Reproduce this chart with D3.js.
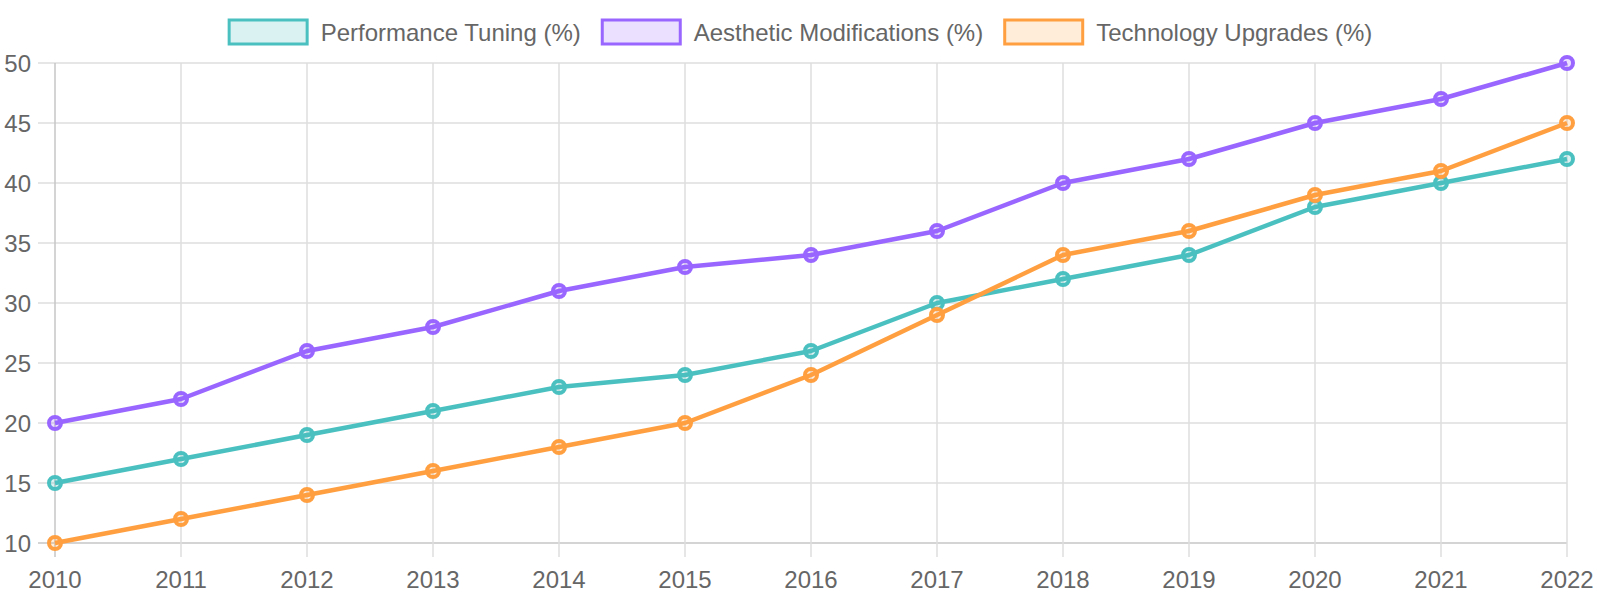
<!DOCTYPE html>
<html>
<head>
<meta charset="utf-8">
<script src="https://cdn.jsdelivr.net/npm/d3@7"></script>
<style>
  body { margin: 0; background: #fff; }
  text { font-family: "Liberation Sans", Arial, sans-serif; fill: #666; }
</style>
</head>
<body>
<script>
var years = [2010, 2011, 2012, 2013, 2014, 2015, 2016, 2017, 2018, 2019, 2020, 2021, 2022]
var performanceTuning = [15, 17, 19, 21, 23, 24, 26, 30, 32, 34, 38, 40, 42]
var aestheticMods = [20, 22, 26, 28, 31, 33, 34, 36, 40, 42, 45, 47, 50]
var techUpgrades = [10, 12, 14, 16, 18, 20, 24, 29, 34, 36, 39, 41, 45]
var yTicks = [10, 15, 20, 25, 30, 35, 40, 45, 50]

var series = [
  { name: "Performance Tuning (%)", values: performanceTuning, color: "#4bc0c0", fill: "rgba(75,192,192,0.2)" },
  { name: "Aesthetic Modifications (%)", values: aestheticMods, color: "#9966ff", fill: "rgba(153,102,255,0.2)" },
  { name: "Technology Upgrades (%)", values: techUpgrades, color: "#ff9f40", fill: "rgba(255,159,64,0.2)" }
]

var width = 1600, height = 600
var margin = { top: 63, right: 33, bottom: 57, left: 55 }

var svg = d3.select("body").append("svg")
    .attr("width", width)
    .attr("height", height)

var x = d3.scalePoint()
    .domain(years)
    .range([margin.left, width - margin.right])

var y = d3.scaleLinear()
    .domain([10, 50])
    .range([height - margin.bottom, margin.top])

// grid
svg.append("g")
  .selectAll("line")
  .data(yTicks)
  .enter()
  .append("line")
    .attr("x1", margin.left - 17)
    .attr("x2", width - margin.right)
    .attr("y1", function (d) { return y(d) })
    .attr("y2", function (d) { return y(d) })
    .attr("stroke", function (d) { return d === 10 ? "#c6c6c6" : "#dedede" })
    .attr("stroke-width", 1.5)

svg.append("g")
  .selectAll("line")
  .data(years)
  .enter()
  .append("line")
    .attr("x1", function (d) { return x(d) })
    .attr("x2", function (d) { return x(d) })
    .attr("y1", margin.top)
    .attr("y2", height - margin.bottom + 14)
    .attr("stroke", function (d, i) { return i === 0 ? "#c6c6c6" : "#dedede" })
    .attr("stroke-width", 1.5)

// tick labels
svg.append("g")
  .selectAll("text")
  .data(yTicks)
  .enter()
  .append("text")
    .attr("x", 31)
    .attr("y", function (d) { return y(d) })
    .attr("dy", "0.36em")
    .attr("text-anchor", "end")
    .style("font-size", "24px")
    .text(function (d) { return d })

svg.append("g")
  .selectAll("text")
  .data(years)
  .enter()
  .append("text")
    .attr("x", function (d) { return x(d) })
    .attr("y", 579)
    .attr("dy", "0.36em")
    .attr("text-anchor", "middle")
    .style("font-size", "24px")
    .text(function (d) { return d })

// lines
var line = d3.line()
    .x(function (d, i) { return x(years[i]) })
    .y(function (d) { return y(d) })

series.forEach(function (s) {
  svg.append("path")
    .datum(s.values)
    .attr("d", line)
    .attr("fill", "none")
    .attr("stroke", s.color)
    .attr("stroke-width", 4.5)
    .attr("stroke-linejoin", "round")
})

series.forEach(function (s) {
  svg.append("g")
    .selectAll("circle")
    .data(s.values)
    .enter()
    .append("circle")
      .attr("cx", function (d, i) { return x(years[i]) })
      .attr("cy", function (d) { return y(d) })
      .attr("r", 6)
      .attr("fill", s.fill)
      .attr("stroke", s.color)
      .attr("stroke-width", 4)
})

// legend
var legend = svg.append("g")
var items = legend.selectAll("g")
    .data(series)
    .enter()
  .append("g")

items.append("rect")
    .attr("x", 1.5)
    .attr("y", 20)
    .attr("width", 78)
    .attr("height", 24)
    .attr("fill", function (d) { return d.fill })
    .attr("stroke", function (d) { return d.color })
    .attr("stroke-width", 3)

items.append("text")
    .attr("x", 93)
    .attr("y", 32)
    .attr("dy", "0.36em")
    .style("font-size", "24px")
    .text(function (d) { return d.name })

var offsets = [], total = 0
items.each(function (d, i) {
  var w = 93 + d3.select(this).select("text").node().getComputedTextLength()
  offsets.push(total)
  total += w + (i < series.length - 1 ? 20 : 0)
})
var start = width / 2 - total / 2
items.attr("transform", function (d, i) { return "translate(" + (start + offsets[i]) + ",0)" })
</script>
</body>
</html>
